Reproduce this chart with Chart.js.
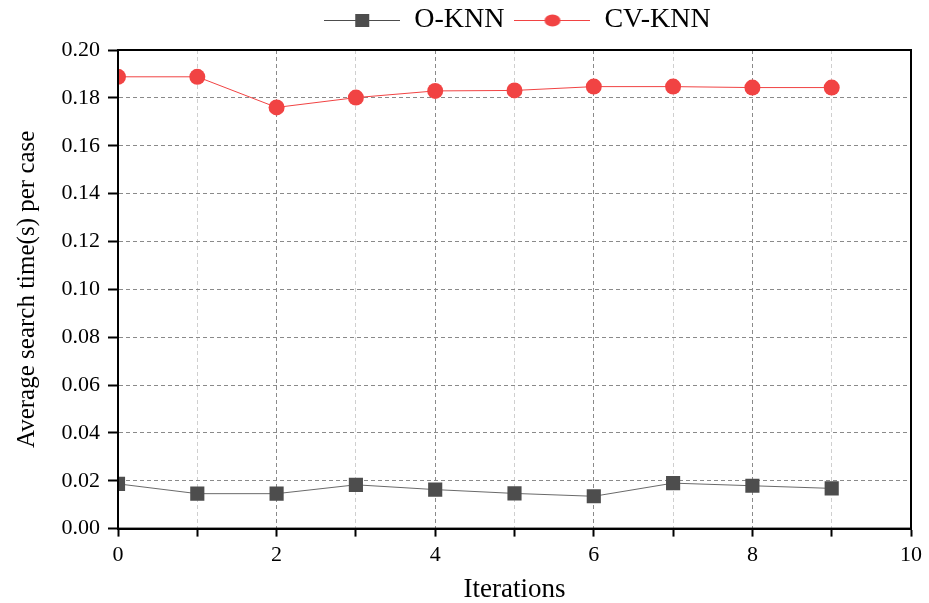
<!DOCTYPE html>
<html>
<head>
<meta charset="utf-8">
<script src="https://cdn.jsdelivr.net/npm/chart.js@4/dist/chart.umd.min.js"></script>
<style>
  html, body { margin: 0; padding: 0; background: #fff; }
  #wrap { width: 929px; height: 603px; position: relative; }
</style>
</head>
<body>
<div id="wrap"><canvas id="chart"></canvas></div>
<script>
// Data
const iterations = [0, 1, 2, 3, 4, 5, 6, 7, 8, 9];
const oKnn = [0.0187, 0.0146, 0.0146, 0.0183, 0.0163, 0.0147, 0.0135, 0.0190, 0.0179, 0.0168];
const cvKnn = [0.1888, 0.1888, 0.1760, 0.1801, 0.1829, 0.1831, 0.1847, 0.1847, 0.1843, 0.1843];
const seriesNames = ['O-KNN', 'CV-KNN'];

const SERIF = "'Liberation Serif', 'Times New Roman', serif";
const GRAY = '#4d4d4d';
const RED = '#f14343';

// legend symbol: short line with the marker in the middle
function legendSymbol(kind, color) {
    const c = document.createElement('canvas');
    c.width = 76; c.height = 20;
    const g = c.getContext('2d');
    g.strokeStyle = color; g.lineWidth = 1;
    g.beginPath(); g.moveTo(0, 10.5); g.lineTo(76, 10.5); g.stroke();
    g.fillStyle = color;
    if (kind === 'rect') g.fillRect(31, 4, 14, 13);
    else { g.beginPath(); g.ellipse(38, 10.5, 8, 6, 0, 0, Math.PI * 2); g.fill(); }
    return c;
}
const symbols = [legendSymbol('rect', GRAY), legendSymbol('circle', RED)];

// black box round the plot area, legend shifted to match the figure
const framePlugin = {
    id: 'frame',
    afterLayout(chart) {
        chart.legend.left += 58;
        chart.legend.right += 58;
        chart.legend.top -= 6;
        chart.legend.bottom -= 6;
    },
    afterDraw(chart) {
        const { ctx, chartArea: a } = chart;
        ctx.save();
        ctx.strokeStyle = '#000';
        ctx.lineWidth = 2;
        ctx.strokeRect(a.left, a.top, a.right - a.left, a.bottom - a.top);
        ctx.restore();
    }
};

const minorGrid = (ctx) => ctx.index % 2 === 0 ? '#8a8a8a' : '#cfcfcf';

new Chart(document.getElementById('chart'), {
    type: 'line',
    data: {
        datasets: [
            {
                label: seriesNames[0],
                data: iterations.map((x, i) => ({ x, y: oKnn[i] })),
                borderColor: '#6a6a6a', borderWidth: 1,
                pointStyle: 'rect', pointRadius: 10, pointHoverRadius: 10,
                pointBackgroundColor: GRAY, pointBorderColor: GRAY, pointBorderWidth: 0
            },
            {
                label: seriesNames[1],
                data: iterations.map((x, i) => ({ x, y: cvKnn[i] })),
                borderColor: RED, borderWidth: 1,
                pointStyle: 'circle', pointRadius: 8, pointHoverRadius: 8,
                pointBackgroundColor: RED, pointBorderColor: RED, pointBorderWidth: 0
            }
        ]
    },
    options: {
        responsive: true, maintainAspectRatio: false, animation: false,
        layout: { padding: { left: 8, right: 18, top: 2, bottom: 0 } },
        plugins: {
            tooltip: { enabled: false },
            legend: {
                position: 'top',
                labels: {
                    usePointStyle: true, pointStyleWidth: 76,
                    color: '#000', padding: 10,
                    font: { family: SERIF, size: 28 },
                    generateLabels(chart) {
                        const items = Chart.defaults.plugins.legend.labels.generateLabels(chart);
                        items.forEach((it, i) => { it.pointStyle = symbols[i]; });
                        return items;
                    }
                }
            }
        },
        scales: {
            x: {
                type: 'linear', min: 0, max: 10,
                ticks: {
                    stepSize: 1, color: '#000', padding: 5,
                    font: { family: SERIF, size: 22 },
                    callback: (v) => v % 2 === 0 ? v : ''
                },
                grid: { color: minorGrid, tickColor: '#000', tickWidth: 2, tickLength: 8 },
                border: { color: '#000', width: 2, dash: [4, 3] },
                title: { display: true, text: 'Iterations', color: '#000', font: { family: SERIF, size: 27, lineHeight: 1.0 }, padding: { top: 3, bottom: 0 } }
            },
            y: {
                min: 0, max: 0.2,
                afterFit(scale) { scale.width = 110; },
                ticks: {
                    stepSize: 0.01, color: '#000', padding: 8,
                    font: { family: SERIF, size: 22 },
                    callback: (v, i) => i % 2 === 0 ? v.toFixed(2) : ''
                },
                grid: { color: minorGrid, tickColor: '#000', tickWidth: 2, tickLength: 10 },
                border: { color: '#000', width: 2, dash: [4, 3] },
                title: { display: true, text: 'Average search time(s) per case', color: '#000', font: { family: SERIF, size: 25 }, padding: { top: 4, bottom: 0 } }
            }
        }
    },
    plugins: [framePlugin]
});
</script>
</body>
</html>
